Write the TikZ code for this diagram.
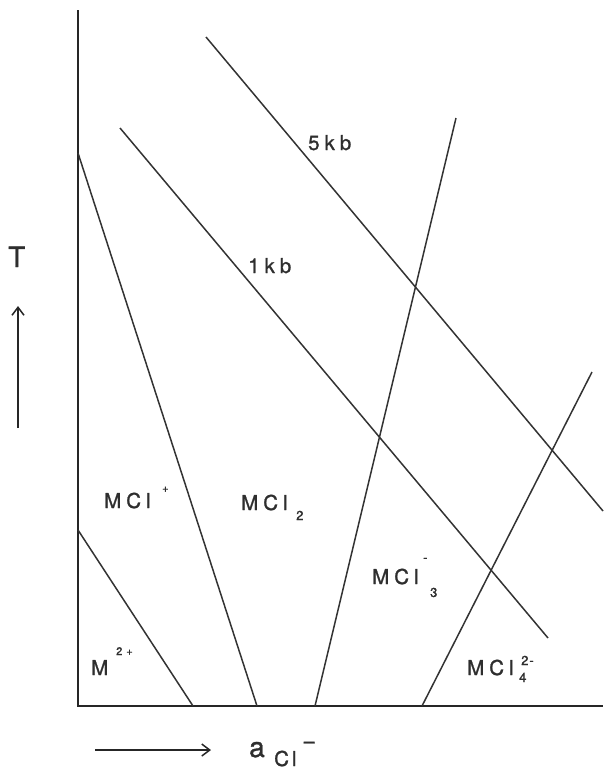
\documentclass[tikz,border=0pt]{standalone}
\usepackage{fontspec}
\setmainfont[FakeBold=1.2]{TeX Gyre Heros}
\usetikzlibrary{arrows.meta}
\begin{document}
\begin{tikzpicture}[x=1pt,y=-1pt,
  axis/.style={line width=2.2pt, draw=black!85},
  bnd/.style={line width=1.5pt, draw=black!80},
  arr/.style={line width=1.5pt, draw=black!85, -{Straight Barb[length=8pt,width=12pt,line width=1.5pt]}},
  lbl/.style={inner sep=0pt, anchor=base west, text=black!82, font=\fontsize{20.5}{24}\selectfont},
  big/.style={lbl, font=\fontsize{28}{32}\selectfont},
  scr/.style={lbl, font=\fontsize{13}{15}\selectfont},
  tiny/.style={lbl, font=\fontsize{11}{12}\selectfont}]
\useasboundingbox (0,0) rectangle (603,769);
% axes
\coordinate (ytop) at (78,10);
\coordinate (orig) at (78,706);
\coordinate (xend) at (603,706);
\draw[axis] (ytop) -- (orig) -- (xend);
% phase boundaries
\coordinate (b1a) at (78,530);  \coordinate (b1b) at (193,706);
\coordinate (b2a) at (78,153);  \coordinate (b2b) at (257,706);
\coordinate (b3a) at (315,706); \coordinate (b3b) at (456,118);
\coordinate (b4a) at (422,706); \coordinate (b4b) at (592,372);
\draw[bnd] (b1a) -- (b1b);
\draw[bnd] (b2a) -- (b2b);
\draw[bnd] (b3a) -- (b3b);
\draw[bnd] (b4a) -- (b4b);
% isobars
\coordinate (p5a) at (206,37);  \coordinate (p5b) at (603,511);
\coordinate (p1a) at (120,128); \coordinate (p1b) at (548,638);
\draw[bnd] (p5a) -- (p5b);
\draw[bnd] (p1a) -- (p1b);
% pressure labels
\node[lbl] (l5) at (308,150) {5\kern5pt k\kern5pt b};
\node[lbl] (l1) at (248,273) {1\kern5pt k\kern5pt b};
% axis labels
\coordinate (ta) at (18,428); \coordinate (tb) at (18,306);
\draw[arr] (ta) -- (tb);
\node[big] (T) at (8,267) {T};
\coordinate (xa) at (95,750); \coordinate (xb) at (211,750);
\draw[arr] (xa) -- (xb);
\node[big] (a) at (249,757) {a};
\node[lbl] (acl) at (274,766) {C\kern3pt l};
\node[lbl, anchor=mid west, font=\fontsize{24}{28}\selectfont] (aminus) at (302,746) {−};
% field labels
\node[lbl] (m2) at (91,675) {M};
\node[tiny] (m2s) at (116,655) {2\kern4pt +};
\node[lbl] (mcl1) at (104,508) {M\kern5pt C\kern5pt l};
\node[tiny] (mcl1s) at (162,492) {+};
\node[lbl] (mcl2) at (241,510) {M\kern5pt C\kern5pt l};
\node[scr] (mcl2s) at (296,520) {2};
\node[lbl] (mcl3) at (372,584) {M\kern5pt C\kern5pt l};
\node[scr] (mcl3s) at (430,597) {3};
\node[scr] (mcl3m) at (423,562) {-};
\node[lbl] (mcl4) at (467,675) {M\kern5pt C\kern5pt l};
\node[scr] (mcl4s) at (519,682) {4};
\node[scr] (mcl4m) at (521,665) {2\kern1pt -};
\end{tikzpicture}
\end{document}
